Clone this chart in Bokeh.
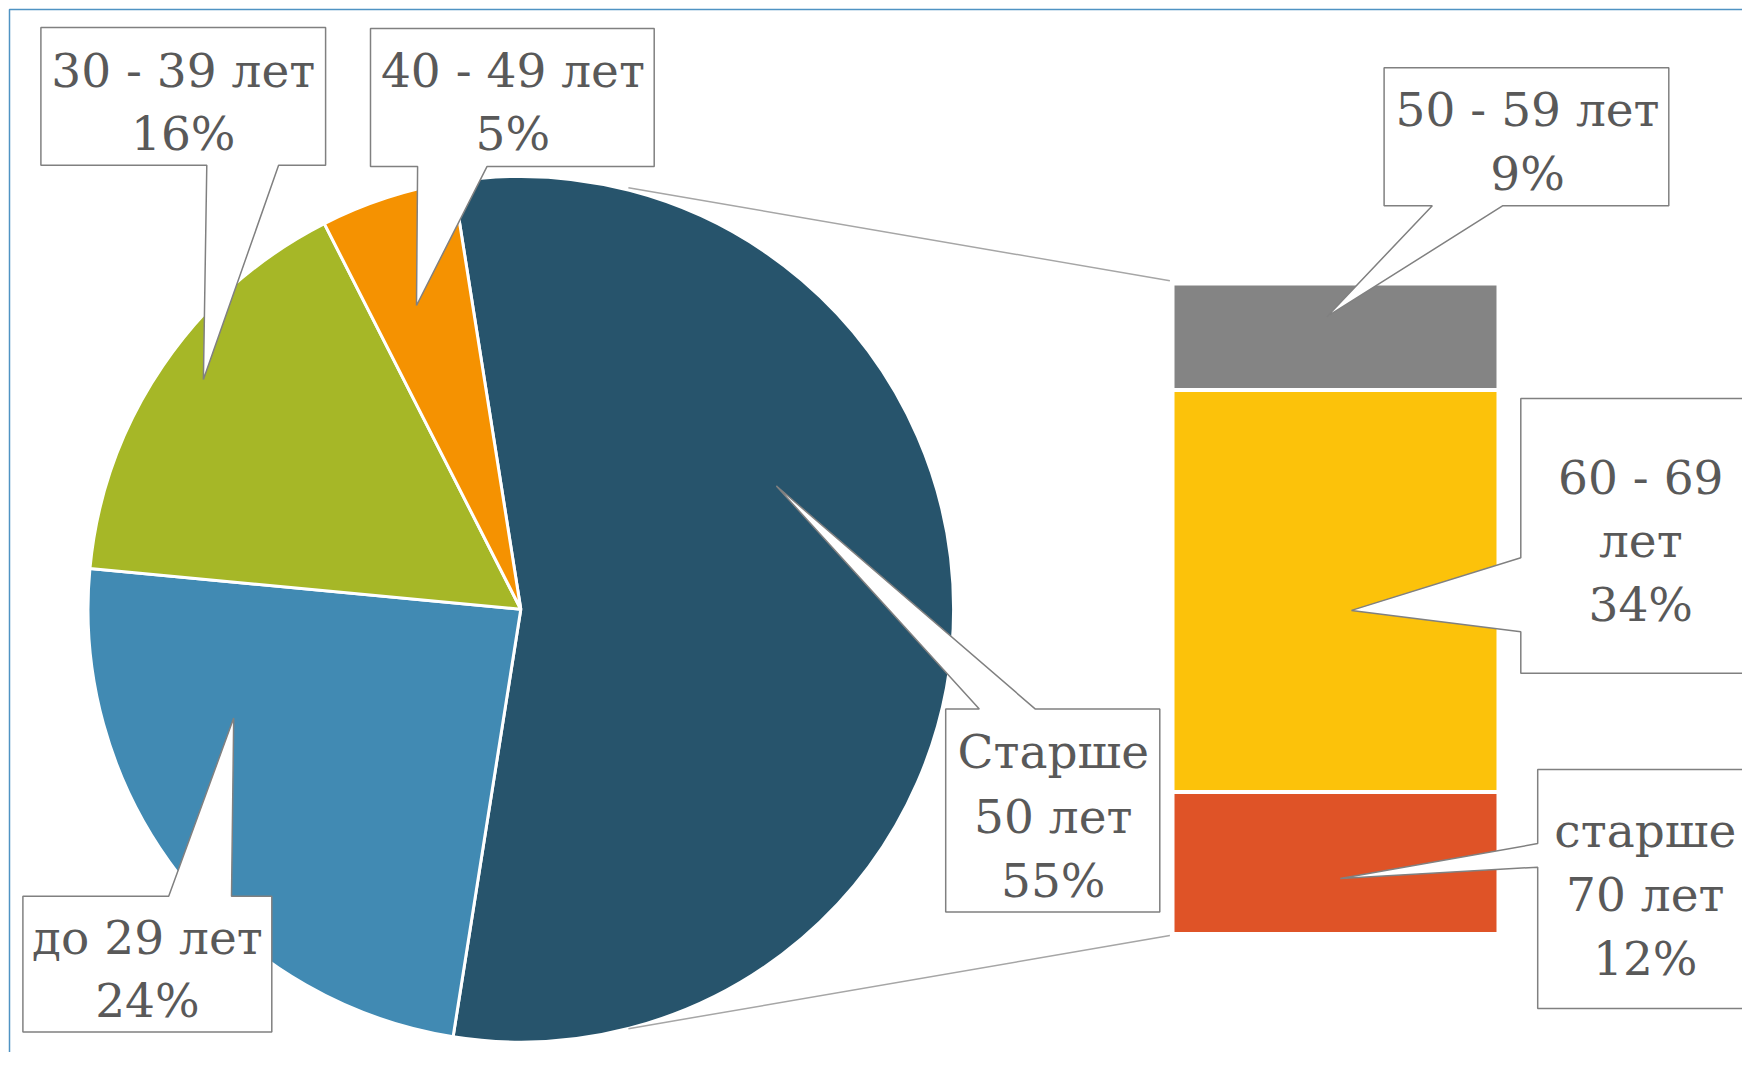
import math
from bokeh.plotting import figure
from bokeh.models import Range1d, ColumnDataSource
from bokeh.core.properties import value
from bokeh.embed import file_html
from bokeh.resources import INLINE

# ---------------- data ----------------
pie_labels = ["Старше 50 лет", "до 29 лет", "30 - 39 лет", "40 - 49 лет"]
pie_values = [55, 24, 16, 5]
pie_colors = ["#27546c", "#418ab3", "#a6b727", "#f59201"]

bar_labels = ["старше 70 лет", "60 - 69 лет", "50 - 59 лет"]   # bottom -> top
bar_values = [12, 34, 9]
bar_colors = ["#df5327", "#fcc20a", "#848484"]

# ---------------- layout (reference pixel coordinates) ----------------
W, H = 1742, 1052
OX, OY = 0, 0
PIE_CX, PIE_CY, PIE_R = 520.3, 608.8, 432.8
BAR_X0, BAR_X1 = 1172, 1498
BAR_TOP, BAR_BOT = 283.0, 933.5

TEXT_COLOR = "#595959"
FONT = "DejaVu Serif"
FS = "47px"

p = figure(width=W, height=H, output_backend="svg", toolbar_location=None,
           x_range=Range1d(OX, OX + W), y_range=Range1d(-(OY + H), -OY),
           min_border=0)
p.axis.visible = False
p.xgrid.visible = False
p.ygrid.visible = False
p.outline_line_color = None
p.background_fill_color = "white"

# frame (only top and left visible in the reference)
p.line(x=[9, 9, OX + W + 5], y=[-(OY + H + 5), -9, -9], line_color="#4f93c3", line_width=1.5)

# ---------------- pie ----------------
total = sum(pie_values)
deg = [v / total * 360.0 for v in pie_values]
start_top = deg[0] / 2.0          # first slice centred on 3 o'clock
starts, ends = [], []
a = start_top
for d in deg:
    ends.append(math.radians(a))
    starts.append(math.radians(a - d))
    a -= d
pie_src = ColumnDataSource(dict(start=starts, end=ends, color=pie_colors, label=pie_labels))
p.wedge(x=PIE_CX, y=-PIE_CY, radius=PIE_R, start_angle="start", end_angle="end",
        fill_color="color", line_color="white", line_width=3, source=pie_src)

# ---------------- stacked bar on its own scale ----------------
bar_total = sum(bar_values)
ppu = ((BAR_BOT - BAR_TOP)) / bar_total
bstart = -((OY + H) - BAR_BOT) / ppu
bend = bstart + H / ppu
p.extra_y_ranges = {"bar": Range1d(bstart, bend)}
bottoms, tops = [], []
c = 0
for v in bar_values:
    bottoms.append(c)
    c += v
    tops.append(c)
bar_src = ColumnDataSource(dict(bottom=bottoms, top=tops, color=bar_colors, label=bar_labels))
p.vbar(x=(BAR_X0 + BAR_X1) / 2, width=BAR_X1 - BAR_X0, bottom="bottom", top="top",
       fill_color="color", line_color="white", line_width=4, y_range_name="bar", source=bar_src)

# connector lines
p.segment(x0=[627.9, 627.9], y0=[-187.2, -1028.2], x1=[1169.4, 1169.4], y1=[-280.3, -935.1],
          line_color="#a6a6a6", line_width=1.5)

# ---------------- callouts ----------------
callouts = [
    # 30-39
    [(40.4, 26.9), (325.1, 26.9), (325.1, 164.8), (278.1, 164.8), (202.9, 379.0), (206.3, 164.8), (40.4, 164.8)],
    # 40-49
    [(370.0, 28.0), (653.7, 28.0), (653.7, 165.9), (486.6, 165.9), (416.0, 305.0), (417.1, 165.9), (370.0, 165.9)],
    # 50-59
    [(1383.6, 67.3), (1668.3, 67.3), (1668.3, 205.2), (1502.4, 205.2), (1326.4, 316.2), (1431.8, 205.2), (1383.6, 205.2)],
    # 60-69
    [(1520.3, 398.0), (1762.0, 398.0), (1762.0, 672.7), (1520.3, 672.7), (1520.3, 631.2), (1351.0, 609.9), (1520.3, 557.2)],
    # старше 70
    [(1537.2, 769.1), (1750.2, 769.1), (1750.2, 1008.0), (1537.2, 1008.0), (1537.2, 866.7), (1339.8, 877.9), (1537.2, 843.1)],
    # Старше 50
    [(945.2, 708.6), (978.8, 708.6), (775.9, 485.5), (1034.9, 708.6), (1159.3, 708.6), (1159.3, 911.5), (945.2, 911.5)],
    # до 29
    [(22.4, 895.8), (168.2, 895.8), (233.2, 717.6), (231.0, 895.8), (271.3, 895.8), (271.3, 1031.5), (22.4, 1031.5)],
]
p.patches(xs=[[pt[0] for pt in c] for c in callouts],
          ys=[[-pt[1] for pt in c] for c in callouts],
          fill_color="white", line_color="#808080", line_width=1.5)

texts = [
    ("30 - 39 лет", 182.8, 69.5), ("16%", 182.8, 133.4),
    ("40 - 49 лет", 512.4, 69.5), ("5%", 512.4, 133.4),
    ("50 - 59 лет", 1527.1, 108.8), ("9%", 1527.1, 172.7),
    ("60 - 69", 1640.3, 476.5), ("лет", 1640.3, 540.4), ("34%", 1640.3, 604.3),
    ("Старше", 1052.8, 751.2), ("50 лет", 1052.8, 816.2), ("55%", 1052.8, 880.1),
    ("старше", 1644.8, 829.7), ("70 лет", 1644.8, 893.6), ("12%", 1644.8, 957.5),
    ("до 29 лет", 146.9, 937.3), ("24%", 146.9, 1000.1),
]
p.text(x=[t[1] for t in texts], y=[-t[2] for t in texts], text=[t[0] for t in texts],
       text_font=value(FONT), text_font_size=FS, text_color=TEXT_COLOR,
       text_align="center", text_baseline="middle")

open("out.html", "w").write(file_html(p, INLINE))
